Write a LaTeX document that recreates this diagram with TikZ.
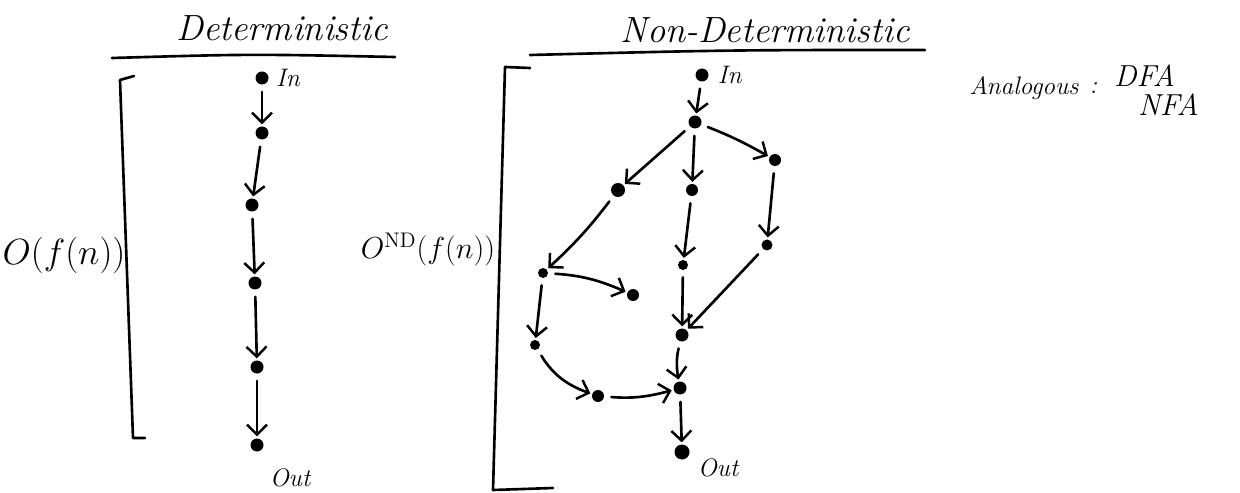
\documentclass[tikz,border=0pt]{standalone}
\usepackage{tikz}
\usetikzlibrary{arrows.meta,positioning,calc}
\tikzset{
  dot/.style={circle, fill=black, minimum size=#1, inner sep=0pt},
  dot/.default=2.6mm,
  stroke/.style={line width=1.5pt, line cap=round, line join=round},
  flow/.style={stroke, -{Straight Barb[length=2mm,width=4mm,line width=1.4pt]},
               shorten <=4pt, shorten >=1pt},
  title/.style={font=\huge\itshape},
  lbl/.style={font=\Large\itshape, inner sep=1pt},
  note/.style={font=\Large\itshape, inner sep=1pt},
}

\begin{document}
\begin{tikzpicture}[x=0.2mm,y=0.2mm]
  \useasboundingbox (0,0) rectangle (1240,-493);
  % headings
  \node[title] (det) at (282,-28) {Deterministic};
  \node[title] (ndet) at (765,-30) {Non-Deterministic};
  \draw[stroke] (112,-58) .. controls (250,-54) .. (395,-57);
  \draw[stroke] (530,-55) .. controls (730,-50) .. (925,-50);

  % deterministic chain
  \foreach \x/\y [count=\i] in {262/78, 262/133, 252/205, 255/283, 257/367, 257/445} {
    \node[dot] (d\i) at (\x,-\y) {};
  }
  \foreach \i in {1,...,5} {
    \pgfmathtruncatemacro{\j}{\i+1}
    \draw[flow] (d\i) -- (d\j);
  }
  \node[lbl, right=3pt of d1] (din) {In};
  \node[lbl] (dout) at ($(d6)+(33,-33)$) {Out};
  \draw[stroke] (134,-76) -- (120,-80) -- (133,-438) -- (145,-438);
  \node[font=\huge] (tdet) at (64,-255) {$O(f(n))$};

  % non-deterministic graph
  \foreach \n/\x/\y/\s in {nin/702/75/2.6mm, n1/695/122/2.6mm, a1/618/190/2.8mm,
      b1/692/190/2.4mm, c1/775/160/2.4mm, a2/543/273/2mm, a3/633/295/2.4mm,
      b2/683/265/2mm, c2/767/245/2.2mm, a4/535/345/2mm, m/682/335/2.6mm,
      a5/598/396/2.4mm, j/680/388/2.6mm, nout/682/452/3mm}
    \node[dot=\s] (\n) at (\x,-\y) {};
  \foreach \s/\t/\b in {nin/n1/0, n1/a1/0, n1/b1/0, n1/c1/4, a1/a2/5, b1/b2/0,
      c1/c2/0, a2/a3/10, a2/a4/0, b2/m/0, c2/m/0, m/j/-12, a4/a5/-20,
      a5/j/-10, j/nout/0}
    \draw[flow] (\s) to[bend left=\b] (\t);
  \node[lbl, right=4pt of nin] (nlin) {In};
  \node[lbl] (nlout) at ($(nout)+(36,-16)$) {Out};
  \draw[stroke] (530,-68) -- (505,-67) -- (493,-490) -- (553,-488);
  \node[font=\LARGE] (tndet) at (428,-250) {$O^{\mathrm{ND}}(f(n))$};

  % analogy
  \node[note] (ana) at (1024,-88) {Analogous};
  \node[note, right=4pt of ana] (colon) {:};
  \node[note, font=\LARGE\itshape, anchor=west] (dfa) at (1112,-76) {DFA};
  \node[note, font=\LARGE\itshape, anchor=west] (nfa) at (1136,-105) {NFA};
\end{tikzpicture}
\end{document}
